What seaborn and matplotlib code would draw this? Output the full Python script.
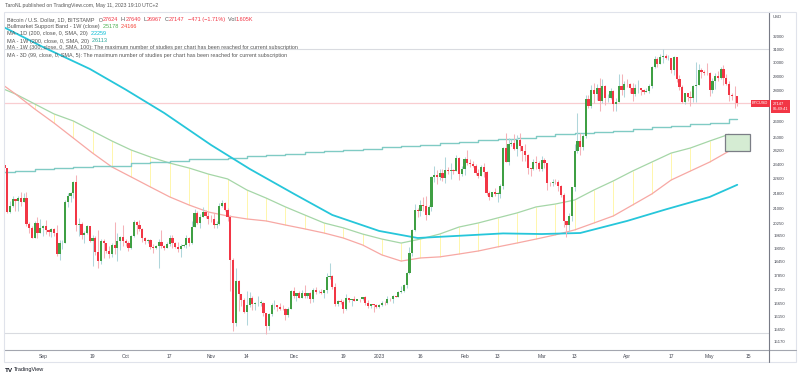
import numpy as np
import pandas as pd
import matplotlib
matplotlib.use("Agg")
import matplotlib.pyplot as plt
import matplotlib.dates as mdates
from matplotlib.patches import Rectangle
from matplotlib.lines import Line2D
from matplotlib.text import Annotation
from matplotlib.ticker import NullLocator, NullFormatter
from matplotlib.transforms import blended_transform_factory
import seaborn as sns

# ---------------- daily candles BTCUSD (Bitstamp), 2022-08-18 .. 2023-05-11
first_date = "2022-08-18"
last_date = "2023-05-11"
first_open = 23350
last_open = 27624

closes = [
    # Aug
    23200, 20830, 21140, 21520, 21400, 21530, 21370, 21580, 20240, 20040, 19550, 20290, 19800, 20050,
    # Sep
    20130, 19950, 19830, 20000, 19800, 18790, 19290, 19320, 21360, 21650, 21830, 22400, 20180, 20230, 19700,
    19800, 20110, 19420, 19540, 18880, 18500, 19410, 19290, 18920, 18800, 19220, 19080, 19420, 19590, 19420,
    # Oct
    19310, 19060, 19630, 20340, 20160, 19960, 19530, 19420, 19450, 19130, 19060, 19150, 19380, 19180, 19070,
    19260, 19550, 19330, 19120, 19040, 19170, 19210, 19570, 19330, 20090, 20770, 20290, 20590, 20820, 20630, 20490,
    # Nov
    20480, 20160, 20210, 21150, 21300, 20920, 20600, 18540, 15880, 17590, 17060, 16810, 16330, 16620, 16900,
    16660, 16690, 16700, 16700, 16280, 15780, 16240, 16600, 16600, 16520, 16460, 16440, 16220, 16440, 17170,
    # Dec
    16980, 17090, 16890, 17110, 16970, 17090, 16840, 17230, 17130, 17130, 17090, 17210, 17780, 17810, 17360,
    16630, 16780, 16740, 16440, 16900, 16820, 16830, 16780, 16840, 16830, 16920, 16700, 16550, 16630, 16600, 16540,
    # Jan
    16620, 16680, 16670, 16850, 16830, 16950, 16940, 17120, 17180, 17440, 17940, 18850, 19930, 20950, 20870,
    21180, 21130, 20680, 21070, 22670, 22780, 22710, 22920, 22620, 23060, 23010, 23080, 23030, 23740, 22830, 23130,
    # Feb
    23730, 23490, 23430, 23330, 22930, 22760, 23260, 22960, 21800, 21630, 21860, 21780, 21780, 22200, 24330,
    23530, 24570, 24630, 24280, 24830, 24440, 24190, 23940, 23190, 23160, 23550, 23490, 23150,
    # Mar
    23640, 23470, 22360, 22350, 22430, 22410, 22200, 21710, 20360, 20190, 20630, 22140, 24200, 24760, 24380,
    25050, 27420, 26970, 28040, 27780, 28170, 27310, 28350, 27490, 27490, 28000, 27140, 27270, 28360, 28030, 28480,
    # Apr
    28460, 28200, 27800, 28170, 28180, 28040, 27930, 27950, 28340, 29650, 30240, 29900, 30390, 30490, 30320,
    30320, 29450, 30400, 28800, 28250, 27270, 27820, 27590, 27520, 28310, 28420, 29470, 29340, 29250, 29230,
    # May
    28080, 28680, 29030, 28850, 29530, 28900, 28450, 27690, 27630, 27620, 27147,
]

highs = [
    23600, 23200, 21380, 21680, 21520, 21650, 21860, 21800, 21880, 20330, 20150, 20400, 20560, 20480,
    20200, 20440, 19990, 20020, 20050, 20170, 19460, 19450, 21450, 21800, 21850, 22480, 22780, 20550, 20340,
    19890, 20180, 20100, 19690, 19630, 19950, 19480, 19500, 19300, 19180, 19300, 20350, 19780, 19640, 20180,
    19480, 19390, 19700, 20450, 20360, 20440, 20050, 19600, 19520, 19520, 19250, 19230, 19500, 19950, 19210,
    19370, 19680, 19700, 19350, 19340, 19250, 19250, 19690, 19600, 20400, 21000, 20870, 20740, 21080, 20930, 20830,
    20690, 20800, 20390, 21300, 21470, 21370, 21050, 20680, 18600, 18150, 17650, 17070, 16900, 17170, 17130,
    16980, 16730, 16990, 16800, 16740, 16300, 16270, 16680, 16800, 16620, 16680, 16600, 16480, 16540, 17230,
    17330, 17100, 17160, 17200, 17420, 17110, 17130, 17300, 17360, 17220, 17270, 17240, 17960, 18390, 17850,
    17530, 16800, 16850, 16820, 17040, 16890, 16860, 16950, 16860, 16850, 16940, 16960, 16790, 16660, 16640, 16630,
    16630, 16760, 16780, 16990, 16880, 17000, 16970, 17160, 17400, 17490, 17990, 19110, 19990, 21260, 21010,
    21440, 21620, 21650, 21180, 22740, 23310, 23050, 23160, 23130, 23800, 23250, 23480, 23160, 23950, 23800, 23300,
    23800, 24250, 23720, 23580, 23430, 23150, 23360, 23450, 23010, 21940, 21890, 22090, 21880, 22310, 24380,
    25250, 24980, 24900, 25180, 25120, 25260, 24470, 24600, 23970, 23210, 23680, 23880, 23600,
    23900, 23770, 23480, 22410, 22600, 22560, 22540, 22250, 21820, 20310, 20800, 22160, 24560, 26500, 25250,
    25200, 27740, 27710, 28400, 28500, 28470, 28890, 28780, 28390, 27780, 28200, 28020, 27500, 29190, 29180, 28650,
    28810, 28550, 28500, 28440, 28760, 28190, 28100, 28170, 28460, 29770, 30470, 30400, 30590, 31000, 30610,
    30540, 30330, 30480, 30410, 29080, 28380, 27880, 27820, 28000, 28390, 30020, 29880, 29580, 29450, 29960,
    29330, 28870, 29260, 29370, 29680, 29830, 29170, 28650, 27820, 28340, 27640,
]

lows = [
    23100, 20780, 20800, 21070, 20900, 20900, 21150, 21320, 20120, 19800, 19540, 19570, 19540, 19800,
    19640, 19760, 19650, 19600, 19640, 18690, 18540, 19020, 19310, 21110, 21370, 21580, 19880, 19650, 19510,
    19330, 19760, 19380, 18260, 18750, 18150, 18370, 18600, 18840, 18640, 18680, 18820, 18500, 19000, 19180,
    19170, 18960, 19010, 19610, 19760, 19880, 19340, 19250, 19330, 19040, 18870, 19010, 18190, 19080, 18980,
    19070, 19160, 19100, 19060, 18900, 18660, 19110, 19080, 19160, 19250, 20060, 20220, 20010, 20560, 20530, 20250,
    20350, 20050, 20050, 20190, 21080, 20880, 20390, 17170, 15590, 15780, 16350, 16550, 16300, 15820, 16540,
    16400, 16420, 16570, 16560, 16180, 15480, 15630, 16170, 16460, 16360, 16410, 16420, 16000, 16110, 16430,
    16870, 16780, 16870, 16880, 16870, 16900, 16690, 16740, 17060, 17090, 17070, 16870, 17090, 17670, 17280,
    16560, 16580, 16630, 16280, 16400, 16730, 16560, 16760, 16790, 16730, 16790, 16600, 16470, 16490, 16330, 16490,
    16500, 16550, 16600, 16650, 16750, 16680, 16910, 16920, 17110, 17150, 17310, 17900, 18720, 19890, 20560,
    20650, 20870, 20420, 20670, 20880, 22410, 22320, 22500, 22470, 22330, 22870, 22550, 22880, 23000, 22530, 22720,
    22770, 23360, 23240, 23250, 22780, 22640, 22740, 22690, 21700, 21450, 21610, 21640, 21360, 21530, 22050,
    23520, 23350, 24450, 24230, 23860, 24150, 23580, 23600, 22860, 22720, 23080, 23110, 23030,
    23030, 23210, 22000, 22180, 22210, 22320, 21930, 21590, 20060, 19590, 19900, 20370, 21920, 24080, 23920,
    24260, 24930, 26860, 26860, 27170, 27370, 26650, 27160, 27030, 27260, 27440, 26650, 26640, 27250, 27690, 27560,
    28260, 27880, 27290, 27670, 27850, 27740, 27780, 27890, 27830, 28170, 29630, 29700, 29870, 29980, 30250,
    30150, 29270, 29110, 28620, 28020, 27160, 27130, 27340, 26970, 27230, 27250, 28390, 28890, 29070, 29100,
    27670, 27880, 28140, 28700, 28820, 28410, 28380, 27300, 27370, 26860, 26967,
]

# ---------------- weekly studies (values at each Monday)
week_first = "2022-08-15"
week_last = "2023-05-08"
band_sma = [28330, 27780, 27110, 26460, 26010, 25380, 24770, 24230, 23820, 23470, 23190, 22850, 22580,
            21980, 21550, 21090, 20680, 20280, 20040, 19740, 19500, 19310, 19500, 19740, 20080, 20280,
            20530, 20780, 21090, 21240, 21450, 21980, 22470, 23020, 23530, 24050, 24350, 24770, 25178]
band_ema = [28740, 27780, 26780, 25880, 24950, 24050, 23250, 22690, 22140, 21610, 21190, 20830, 20630,
            20480, 20380, 20180, 19990, 19790, 19550, 19220, 18760, 18480, 18620, 18670, 18800, 18940,
            19130, 19310, 19500, 19700, 19940, 20280, 20630, 21190, 21770, 22520, 23020, 23530, 24166]
ma_1w_200 = [22970, 23020, 23140, 23190, 23220, 23280, 23330, 23450, 23530, 23590, 23680, 23730, 23790,
             23880, 23940, 24000, 24090, 24170, 24230, 24320, 24410, 24470, 24530, 24620, 24710, 24800,
             24890, 24980, 25100, 25170, 25230, 25320, 25410, 25510, 25600, 25690, 25790, 25910, 26113]

# ---------------- daily MA 200 (read at a few dates)
ma_1d_dates = ["2022-08-18", "2022-09-01", "2022-09-18", "2022-10-01", "2022-10-15", "2022-11-01",
               "2022-11-15", "2022-12-01", "2022-12-15", "2023-01-01", "2023-01-15", "2023-02-01",
               "2023-02-15", "2023-03-01", "2023-03-15", "2023-04-01", "2023-04-15", "2023-05-01", "2023-05-11"]
ma_1d_200 = [32670, 31150, 29530, 28080, 26520, 24530, 23140, 21780, 20680, 19890, 19550, 19670,
             19770, 19740, 19790, 20380, 20960, 21610, 22259]

# horizontal levels drawn on the chart
levels = [31000, 15500]

# axis ticks
x_tick_dates = ["2022-09-01", "2022-09-19", "2022-10-01", "2022-10-17", "2022-11-01", "2022-11-14",
                "2022-12-01", "2022-12-19", "2023-01-01", "2023-01-16", "2023-02-01", "2023-02-13",
                "2023-03-01", "2023-03-13", "2023-04-01", "2023-04-17", "2023-05-01", "2023-05-15"]
x_tick_labels = ["Sep", "19", "Oct", "17", "Nov", "14", "Dec", "19", "2023", "16", "Feb", "13",
                 "Mar", "13", "Apr", "17", "May", "15"]
y_ticks = [32000, 31000, 30000, 29000, 28000, 26000, 25000, 24200, 23400, 22600, 21800, 21000,
           20250, 19650, 19050, 18450, 17850, 17250, 16650, 16150, 15650, 15170]

# ---------------- colours
GREEN = "#3f9f43"
RED = "#f23645"
WICK_UP = "#b0d6db"
WICK_DN = "#f5b2b8"
CYAN = "#26c6da"
TEAL = "#80cbc4"
BAND_G = "#a5d6a7"
BAND_R = "#f7a8a4"
TXT = "#555555"

sns.set_style("white")
plt.rcParams["font.family"] = ["Liberation Sans", "DejaVu Sans"]

W, H = 800, 378
fig = plt.figure(figsize=(8, 3.78), dpi=100)
fig.patch.set_facecolor("white")
ax = fig.add_axes([4 / W, 28 / H, 765 / W, 338 / H])
ax.set_facecolor("white")

# candles
df = pd.DataFrame({"date": pd.date_range(first_date, last_date), "close": closes,
                   "high": highs, "low": lows})
df["open"] = df["close"].shift(1).fillna(first_open)
df.loc[df.index[-1], "open"] = last_open
df["x"] = mdates.date2num(df["date"])
up = df["close"] >= df["open"]
body_lo = np.minimum(df["open"], df["close"])
body_h = np.maximum((df["close"] - df["open"]).abs(), df["close"] * 0.0008)

ax.vlines(df["x"][up], df["low"][up], df["high"][up], color=WICK_UP, lw=0.75, zorder=3)
ax.vlines(df["x"][~up], df["low"][~up], df["high"][~up], color=WICK_DN, lw=0.75, zorder=3)
ax.bar(df["x"][up], body_h[up], bottom=body_lo[up], width=0.8, color=GREEN, lw=0, zorder=4)
ax.bar(df["x"][~up], body_h[~up], bottom=body_lo[~up], width=0.8, color=RED, lw=0, zorder=4)

# weekly studies
wk = pd.DataFrame({"date": pd.date_range(week_first, week_last, freq="7D"),
                   "sma": band_sma, "ema": band_ema, "ma200w": ma_1w_200})
wk["x"] = mdates.date2num(wk["date"])

ax.vlines(wk["x"], wk["ema"], wk["sma"], color="#fff59d", lw=0.6, zorder=1)
sns.lineplot(x=wk["x"], y=wk["sma"], ax=ax, color=BAND_G, lw=0.9, zorder=2)
sns.lineplot(x=wk["x"], y=wk["ema"], ax=ax, color=BAND_R, lw=0.9, zorder=2)

ma_w_x = list(wk["x"]) + [df["x"].iloc[-1]]
ma_w_y = list(wk["ma200w"]) + [ma_1w_200[-1]]
ax.step(ma_w_x, ma_w_y, where="post", color=TEAL, lw=1.0, zorder=2)

ma_d = pd.DataFrame({"x": mdates.date2num(pd.to_datetime(ma_1d_dates)), "y": ma_1d_200})
sns.lineplot(data=ma_d, x="x", y="y", ax=ax, color=CYAN, lw=1.3, zorder=2)

# box at the end of the band
box = Rectangle((wk["x"].iloc[-1] - 1.5, band_ema[-1]), 9.0, band_sma[-1] - band_ema[-1],
                facecolor="#d5ecd3", edgecolor="#7b7e86", lw=0.9, zorder=5)
ax.add_patch(box)

# level lines and last price line
for lv in levels:
    ax.axhline(lv, color="#d9dbe0", lw=0.8, zorder=0.5)
last_close = closes[-1]
ax.axhline(last_close, color="#f9cdd0", lw=0.9, zorder=0.5)

# scales
ax.set_yscale("log")
ax.set_ylim(14876, 33930)
x_sep1 = mdates.date2num(pd.Timestamp("2022-09-01"))
ax.set_xlim(x_sep1 - 39 / 2.755, x_sep1 + 726 / 2.755)

ax.set_xticks(mdates.date2num(pd.to_datetime(x_tick_dates)))
ax.set_xticklabels(x_tick_labels)
ax.yaxis.tick_right()
ax.yaxis.set_minor_locator(NullLocator())
ax.yaxis.set_minor_formatter(NullFormatter())
ax.set_yticks(y_ticks)
ax.set_yticklabels([str(v) for v in y_ticks])
ax.tick_params(axis="x", length=0, pad=3, labelsize=3.6, colors="#434651")
ax.tick_params(axis="y", length=0, pad=3, labelsize=3.1, colors="#434651")
ax.set_xlabel("")
ax.set_ylabel("")
ax.grid(False)
for s in ["left", "top"]:
    ax.spines[s].set_visible(False)
ax.spines["right"].set_color("#787b86")
ax.spines["right"].set_linewidth(0.8)
ax.spines["bottom"].set_color("#a3a6af")
ax.spines["bottom"].set_linewidth(0.8)

# price tags
blend = blended_transform_factory(ax.transAxes, ax.transData)
ax.text(0.999, last_close, "BTCUSD", transform=blend, ha="right", va="center", fontsize=2.9,
        color="white", bbox=dict(boxstyle="square,pad=0.35", fc=RED, ec="none"), zorder=6)
ax.annotate("27147\n06:49:41", xy=(1.0, last_close), xycoords=blend, xytext=(2.5, -2.2),
            textcoords="offset points", ha="left", va="center", fontsize=2.9, color="white",
            linespacing=1.25, annotation_clip=False,
            bbox=dict(boxstyle="square,pad=0.45", fc=RED, ec="none"), zorder=6)

# frame around chart
fig.add_artist(Rectangle((4 / W, 1 - 362 / H), 792 / W, 350 / H, transform=fig.transFigure,
                         fill=False, ec="#e0e3eb", lw=0.8))
fig.add_artist(Line2D([769 / W, 796 / W], [1 - 350 / H, 1 - 350 / H], transform=fig.transFigure,
                      color="#a3a6af", lw=0.8))
fig.add_artist(Line2D([769 / W, 769 / W], [1 - 362 / H, 1 - 350 / H], transform=fig.transFigure,
                      color="#787b86", lw=0.8))
fig.text(773 / W, 1 - 17 / H, "USD", fontsize=3.1, color="#434651", va="center")

# texts
def rich_line(x, y, parts, size=4.0):
    t = fig.text(x / W, 1 - y / H, parts[0][0], color=parts[0][1], fontsize=size,
                 va="center", ha="left", zorder=7)
    for s, c in parts[1:]:
        t = fig.add_artist(Annotation(s, xy=(1, 0.5), xycoords=t, va="center", ha="left",
                                      color=c, fontsize=size, zorder=7))
    return t

fig.text(5 / W, 1 - 6 / H, "TaroNL published on TradingView.com, May 11, 2023 19:10 UTC+2",
         fontsize=3.7, color=TXT, va="center")

rich_line(7, 19.5, [("Bitcoin / U.S. Dollar, 1D, BITSTAMP   O", TXT), ("27624", RED), ("  H", TXT),
                    ("27640", RED), ("  L", TXT), ("26967", RED), ("  C", TXT), ("27147", RED),
                    ("  \u2212471 (\u22121.71%)", RED), ("  Vol", TXT), ("1.605K", RED)])
rich_line(7, 26.5, [("Bullmarket Support Band - 1W (close)", TXT), ("  25178", "#4caf50"),
                    ("  24166", "#f44336")])
rich_line(7, 33.5, [("MA - 1D (200, close, 0, SMA, 20)", TXT), ("  22259", "#00bcd4")])
rich_line(7, 41, [("MA - 1W (200, close, 0, SMA, 20)", TXT), ("  26113", "#26a69a")])
rich_line(7, 48, [("MA - 1W (300, close, 0, SMA, 100): The maximum number of studies per chart "
                   "has been reached for current subscription", TXT)], size=3.9)
rich_line(7, 55, [("MA - 3D (99, close, 0, SMA, 5): The maximum number of studies per chart "
                   "has been reached for current subscription", TXT)], size=3.9)

fig.text(5 / W, 1 - 370 / H, "TV", fontsize=4.6, fontweight="bold", color="#131722", va="center")
fig.text(14 / W, 1 - 370 / H, "TradingView", fontsize=4.0, color="#131722", va="center")

fig.savefig("out.png", dpi=100, facecolor="white")
